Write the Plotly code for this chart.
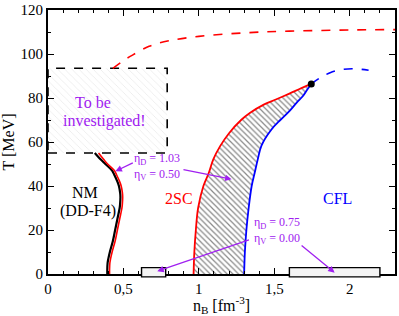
import plotly.graph_objects as go

# ---- data ----
nm_black_T = [55, 52, 50, 47, 45, 42, 40, 37, 35, 32, 30, 25, 20, 15, 10, 7, 5, 2, 0]
nm_black_n = [0.31, 0.35, 0.38, 0.425, 0.44, 0.46, 0.47, 0.478, 0.48, 0.478, 0.475, 0.46, 0.445, 0.43, 0.41, 0.40, 0.395, 0.393, 0.393]
nm_red_n = [0.335, 0.37, 0.395, 0.44, 0.455, 0.475, 0.485, 0.493, 0.495, 0.493, 0.49, 0.475, 0.46, 0.445, 0.425, 0.415, 0.41, 0.408, 0.408]

sc2_T = [0, 10, 20, 30, 40, 46, 52, 58, 64, 70, 73.3, 77, 79.3, 82, 84.5, 86.4]
sc2_n = [0.965, 0.97, 0.98, 0.995, 1.03, 1.066, 1.095, 1.14, 1.2, 1.28, 1.34, 1.43, 1.51, 1.6, 1.68, 1.745]

cfl_T = [0, 10, 20, 30, 40, 46, 52, 58.4, 65.6, 70, 73.3, 78, 80.9, 84, 86.4]
cfl_n = [1.30, 1.305, 1.315, 1.33, 1.35, 1.37, 1.39, 1.415, 1.48, 1.54, 1.59, 1.65, 1.69, 1.72, 1.745]

red_dash_n = [0.43, 0.5, 0.56, 0.67, 0.8, 1.0, 1.3, 1.6, 2.0, 2.3]
red_dash_T = [93.5, 97, 99.5, 103.5, 106, 108, 109.6, 110.4, 110.9, 111.1]

blue_dash_n = [1.745, 1.8, 1.87, 1.95, 2.02, 2.08, 2.125]
blue_dash_T = [86.4, 89, 91.5, 93, 93.3, 93, 92.6]

endpoint_n = [1.745]
endpoint_T = [86.4]

invest_n = [0, 0.79, 0.79, 0, 0]
invest_T = [55, 55, 93.5, 93.5, 55]

box_left = [0.62, 0.78]
box_right = [1.60, 2.20]

x_tickvals = [0, 0.5, 1, 1.5, 2]
x_ticktext = ["0", "0,5", "1", "1,5", "2"]

purple = "#a020f0"
serif = "Liberation Serif"

fig = go.Figure()

# hatched "to be investigated" region
fig.add_trace(go.Scatter(
    x=invest_n, y=invest_T, mode="lines", fill="toself",
    line=dict(color="black", width=1.6, dash="dash"),
    fillcolor="white",
    fillpattern=dict(shape="\\", fgcolor="#c8c8c8", bgcolor="white", size=5, solidity=0.12),
    hoverinfo="skip", showlegend=False))

# hatched coexistence region between 2SC and CFL
poly_n = sc2_n + cfl_n[::-1]
poly_T = sc2_T + cfl_T[::-1]
fig.add_trace(go.Scatter(
    x=poly_n, y=poly_T, mode="lines", fill="toself",
    line=dict(color="rgba(0,0,0,0)", width=0),
    fillcolor="white",
    fillpattern=dict(shape="\\", fgcolor="#111111", bgcolor="white", size=4, solidity=0.3),
    hoverinfo="skip", showlegend=False))

# NM curves
fig.add_trace(go.Scatter(x=nm_black_n, y=nm_black_T, mode="lines",
                         line=dict(color="black", width=2.2, shape="spline"), showlegend=False))
fig.add_trace(go.Scatter(x=nm_red_n, y=nm_black_T, mode="lines",
                         line=dict(color="red", width=1.6, shape="spline"), showlegend=False))

# 2SC / CFL boundaries
fig.add_trace(go.Scatter(x=sc2_n, y=sc2_T, mode="lines",
                         line=dict(color="red", width=1.8, shape="spline"), showlegend=False))
fig.add_trace(go.Scatter(x=cfl_n, y=cfl_T, mode="lines",
                         line=dict(color="blue", width=1.8, shape="spline"), showlegend=False))

# dashed continuations
fig.add_trace(go.Scatter(x=red_dash_n, y=red_dash_T, mode="lines",
                         line=dict(color="red", width=1.6, dash="dash", shape="spline"), showlegend=False))
fig.add_trace(go.Scatter(x=blue_dash_n, y=blue_dash_T, mode="lines",
                         line=dict(color="blue", width=1.6, dash="dash", shape="spline"), showlegend=False))

fig.add_trace(go.Scatter(x=endpoint_n, y=endpoint_T, mode="markers",
                         marker=dict(color="black", size=7), showlegend=False))

# small boxes on the axis
for b in (box_left, box_right):
    fig.add_shape(type="rect", xref="x", yref="paper", x0=b[0], x1=b[1], y0=-0.011, y1=0.024,
                  line=dict(color="black", width=1.4), fillcolor="#f4f4f4", layer="above")

# labels
labels = [
    (0.243, 37.0, "NM", "black"),
    (0.263, 28.8, "(DD-F4)", "black"),
    (0.868, 34.2, "2SC", "red"),
    (1.92, 34.2, "CFL", "blue"),
    (0.296, 78.0, "To be", purple),
    (0.375, 69.6, "investigated!", purple),
]
for x, y, t, c in labels:
    fig.add_annotation(x=x, y=y, text=t, showarrow=False, font=dict(family=serif, size=16, color=c))

fig.add_annotation(x=0.724, y=48.8, text="η<sub>D</sub> = 1.03<br>η<sub>V</sub> = 0.50", showarrow=False,
                   font=dict(family=serif, size=12, color=purple), align="left")
fig.add_annotation(x=1.52, y=19.8, text="η<sub>D</sub> = 0.75<br>η<sub>V</sub> = 0.00", showarrow=False,
                   font=dict(family=serif, size=12, color=purple), align="left")

arrows = [
    ((0.572, 50.8), (0.447, 46.7)),
    ((0.888, 47.6), (1.217, 43.1)),
    ((1.342, 15.7), (0.724, 1.3)),
    ((1.671, 13.5), (1.90, 0.6)),
]
for (tx, ty), (hx, hy) in arrows:
    fig.add_annotation(x=hx, y=hy, ax=tx, ay=ty, axref="x", ayref="y", text="",
                       showarrow=True, arrowhead=2, arrowsize=1, arrowwidth=1.3, arrowcolor=purple)

axis_common = dict(showline=True, linecolor="black", linewidth=2, mirror="ticks",
                   ticks="inside", tickcolor="black", ticklen=6, tickwidth=1.2,
                   showgrid=False, zeroline=False, ticklabeloverflow="allow",
                   tickfont=dict(family=serif, size=15, color="black"))

fig.update_xaxes(range=[0, 2.3], tickvals=x_tickvals, ticktext=x_ticktext,
                 minor=dict(ticks="inside", ticklen=3, dtick=0.1, tickcolor="black"),
                 title=dict(text="n<sub>B</sub> [fm<sup>-3</sup>]", font=dict(family=serif, size=16, color="black"),
                            standoff=4),
                 **axis_common)
fig.update_yaxes(range=[0, 120], dtick=20,
                 minor=dict(ticks="inside", ticklen=3, dtick=10, tickcolor="black"),
                 title=dict(text="T [MeV]", font=dict(family=serif, size=16, color="black"), standoff=6),
                 **axis_common)

fig.update_layout(width=399, height=316, margin=dict(l=48, r=2, t=6, b=42),
                  plot_bgcolor="white", paper_bgcolor="white")

fig.write_html("out.html", config={"displayModeBar": False},
               post_script="document.body.style.margin='0px';")
